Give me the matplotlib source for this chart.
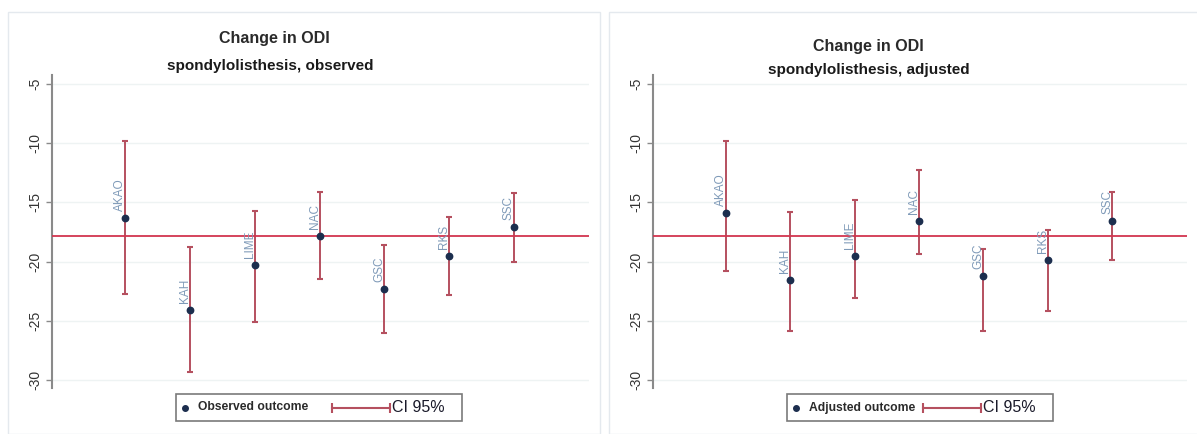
import numpy as np
import matplotlib.pyplot as plt
from matplotlib.lines import Line2D
from matplotlib.patches import Rectangle

plt.rcParams['font.family'] = ['Liberation Sans', 'DejaVu Sans']

# data
sites = ['AKAO', 'KAH', 'LIME', 'NAC', 'GSC', 'RKS', 'SSC']

obs_mean = [-16.3, -24.1, -20.3, -17.8, -22.3, -19.5, -17.1]
obs_lo = [-22.7, -29.35, -25.1, -21.45, -26.0, -22.8, -20.0]
obs_hi = [-9.8, -18.8, -15.7, -14.1, -18.6, -16.2, -14.2]

adj_mean = [-15.9, -21.55, -19.5, -16.55, -21.2, -19.85, -16.55]
adj_lo = [-20.8, -25.85, -23.1, -19.4, -25.85, -24.15, -19.85]
adj_hi = [-9.8, -15.85, -14.8, -12.3, -18.9, -17.35, -14.1]

overall = -17.85
yticks = [-5, -10, -15, -20, -25, -30]

# colours
dot_col = '#1c2e4e'
err_col = '#b5505f'
ref_col = '#d2354f'
lab_col = '#7f9ab8'

W, H = 1197, 434
fig = plt.figure(figsize=(W / 100, H / 100), dpi=100)


def fx(x):
    return x / W


def fy(y):
    return 1 - y / H


def panel(left, right, mean, lo, hi, title_pos, sub_pos, sub, leg_x, leg_label, leg_w):
    # outer frame of the panel
    fig.patches.append(Rectangle((fx(left - 44), 0), fx(right - left + 55), fy(12),
                                 transform=fig.transFigure, fill=False,
                                 edgecolor='#e4e9ee', lw=1))
    ax = fig.add_axes([fx(left), fy(388), fx(right - left), 313 / H])
    x = np.arange(1, len(sites) + 1)
    mean = np.array(mean)
    lo = np.array(lo)
    hi = np.array(hi)
    ax.errorbar(x, mean, yerr=[mean - lo, hi - mean], fmt='none', ecolor=err_col,
                elinewidth=1.4, capsize=2.5, capthick=1.5, zorder=2)
    ax.axhline(overall, color=ref_col, lw=1.3, zorder=3)
    ax.plot(x, mean, 'o', color=dot_col, ms=4.6, zorder=4)
    for xi, yi, s in zip(x, mean, sites):
        ax.annotate(s, (xi, yi), xytext=(-3.5, 5), textcoords='offset points',
                    rotation=90, ha='center', va='bottom', fontsize=8.5,
                    color=lab_col, zorder=3.5)

    ax.set_xlim(-0.13, 8.16)
    ax.set_ylim(-30.68, -4.24)
    ax.set_yticks(yticks)
    ax.set_yticklabels([str(t) for t in yticks], rotation=90, va='center')
    ax.set_xticks([])
    ax.grid(axis='y', color='#eef3f3', lw=1)
    ax.set_axisbelow(True)
    for s in ['top', 'right', 'bottom']:
        ax.spines[s].set_visible(False)
    ax.spines['left'].set_color('#8a8a8a')
    ax.spines['left'].set_linewidth(1.5)
    ax.tick_params(axis='y', length=4, width=1, color='#8a8a8a', pad=3,
                   labelsize=10, labelcolor='#333333')

    fig.text(fx(title_pos[0]), fy(title_pos[1]), 'Change in ODI', ha='center', va='center',
             fontsize=11.5, fontweight='bold', color='#2a2a2a')
    fig.text(fx(sub_pos[0]), fy(sub_pos[1]), sub, ha='center', va='center',
             fontsize=11, fontweight='bold', color='#1a1a1a')

    # legend
    yc = 407.5
    fig.patches.append(Rectangle((fx(leg_x), fy(421)), fx(leg_w), 27 / H,
                                 transform=fig.transFigure, facecolor='white',
                                 edgecolor='#7a7a7a', lw=1.2))
    fig.add_artist(Line2D([fx(leg_x + 9)], [fy(yc)], marker='o', ms=4, color=dot_col,
                          transform=fig.transFigure))
    fig.text(fx(leg_x + 22), fy(yc), leg_label, ha='left', va='center', fontsize=8.7,
             fontweight='bold', color='#2a2a2a')
    ci_x0 = leg_x + leg_w - 130
    fig.add_artist(Line2D([fx(ci_x0), fx(ci_x0 + 58)], [fy(yc), fy(yc)], color=err_col,
                          lw=1.5, transform=fig.transFigure))
    fig.add_artist(Line2D([fx(ci_x0), fx(ci_x0 + 58)], [fy(yc), fy(yc)], color=err_col,
                          lw=0, marker='|', ms=7, mew=1.5, transform=fig.transFigure))
    fig.text(fx(ci_x0 + 60), fy(yc), 'CI 95%', ha='left', va='center', fontsize=11.5,
             color='#1a1a2a')
    return ax


panel(52, 589, obs_mean, obs_lo, obs_hi, (274, 38), (270, 66),
      'spondylolisthesis, observed', 176, 'Observed outcome', 286)
panel(653, 1187, adj_mean, adj_lo, adj_hi, (868, 47), (869, 70),
      'spondylolisthesis, adjusted', 787, 'Adjusted outcome', 266)

fig.savefig('out.png', dpi=100)
